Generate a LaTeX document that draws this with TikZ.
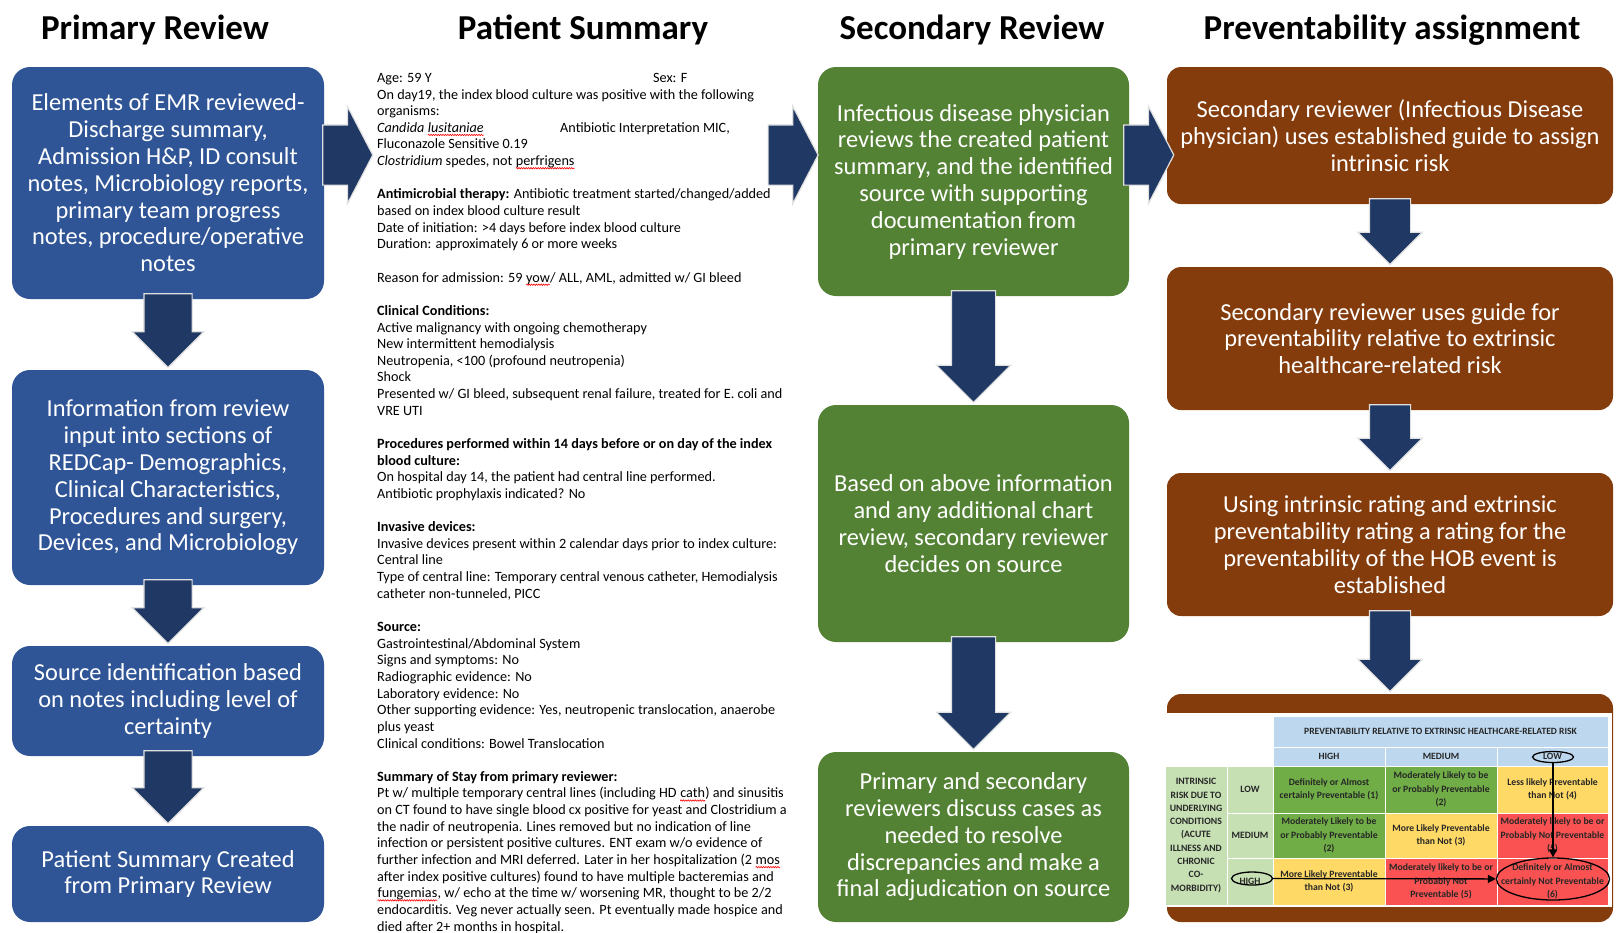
\documentclass[tikz,border=0pt]{standalone}
\usepackage{fontspec}
\setmainfont{Carlito}
\usetikzlibrary{shapes.geometric,shapes.arrows,arrows.meta,calc,positioning,decorations.pathmorphing}

\definecolor{boxblue}{RGB}{47,85,151}
\definecolor{boxgreen}{RGB}{84,130,53}
\definecolor{boxbrown}{RGB}{132,60,12}
\definecolor{arrownavy}{RGB}{31,56,100}
\definecolor{headblue}{RGB}{189,215,238}
\definecolor{sidegreen}{RGB}{198,224,180}
\definecolor{cellgreen}{RGB}{112,173,71}
\definecolor{cellyellow}{RGB}{255,217,102}
\definecolor{cellred}{RGB}{250,82,82}

% red spell-check wave under a word
\newcommand{\spellerr}[1]{\tikz[baseline=(w.base)]{\node[inner sep=0pt, outer sep=0pt] (w) {#1};
  \draw[red, line width=0.6pt, decorate, decoration={snake, amplitude=0.7pt, segment length=2.4pt}] ([yshift=-2.6pt]w.base west) -- ([yshift=-2.6pt]w.base east);}}

% block arrow from one box down to the next: from, to, half stem width, head extend
\newcommand{\downlink}[4]{%
  \path let \p1=(#1.south), \p2=(#2.north) in
    node[downarrow, inner xsep=#3, single arrow head extend=#4,
         minimum height={\y1-\y2+3pt}, anchor=tail] at ([yshift=6pt]#1.south) {};}

\tikzset
{
	flowbox/.style = {rectangle, rounded corners=18pt, align=center, text=white, inner sep=0pt, font=\fontsize{24.4}{26.8}\selectfont},
	bluebox/.style = {flowbox, fill=boxblue, minimum width=312pt},
	greenbox/.style = {flowbox, fill=boxgreen, minimum width=311pt},
	brownbox/.style = {flowbox, fill=boxbrown, minimum width=446pt, rounded corners=14pt},
	coltitle/.style = {font=\fontsize{35}{40}\selectfont\bfseries, anchor=base, inner sep=0pt},
	downarrow/.style = {single arrow, shape border rotate=270, fill=arrownavy, draw=white!88!black, line width=1.2pt, inner ysep=0pt, single arrow tip angle=90, single arrow head indent=0pt},
	rightarrow/.style = {single arrow, fill=arrownavy, draw=white!88!black, line width=1.2pt, inner xsep=0pt, inner ysep=29.5pt, single arrow head extend=18.5pt, single arrow tip angle=125, single arrow head indent=0pt, minimum height=50pt},
	cell/.style = {rectangle, draw=white, line width=0.8pt, inner sep=0pt, align=center, font=\fontsize{9.7}{13.3}\selectfont\bfseries, text=black!85},
	headcell/.style = {cell, fill=headblue, font=\fontsize{9.6}{10}\selectfont\bfseries},
	ratingring/.style = {ellipse, draw=black, line width=1.3pt, inner sep=0pt}
}

\begin{document}
\begin{tikzpicture}[x=1pt, y=-1pt]
\useasboundingbox (0,0) rectangle (1619,932);

% column titles
\node[coltitle] (t1) at (155,39) {Primary Review};
\node[coltitle] (t2) at (583,39) {Patient Summary};
\node[coltitle] (t3) at (972,39) {Secondary Review};
\node[coltitle] (t4) at (1392,39) {Preventability assignment};

% primary review
\node[bluebox, minimum height=232pt] (a1) at (168,183) {Elements of EMR reviewed-\\Discharge summary,\\Admission H\&P, ID consult\\notes, Microbiology reports,\\primary team progress\\notes, procedure/operative\\notes};
\node[bluebox, minimum height=215pt] (a2) at (168,477.5) {Information from review\\input into sections of\\REDCap- Demographics,\\Clinical Characteristics,\\Procedures and surgery,\\Devices, and Microbiology};
\node[bluebox, minimum height=110pt] (a3) at (168,701) {Source identification based\\on notes including level of\\certainty};
\node[bluebox, minimum height=96pt] (a4) at (168,874) {Patient Summary Created\\from Primary Review};

% patient summary
\node[anchor=north west, inner sep=0pt, align=left, font=\fontsize{14.2}{16.64}\selectfont] (summary) at (377,73) {%
\makebox[276pt][l]{Age: 59 Y}Sex: F\\
On day19, the index blood culture was positive with the following\\
organisms:\\
\makebox[183pt][l]{\textit{Candida \spellerr{lusitaniae}}}Antibiotic Interpretation MIC,\\
Fluconazole Sensitive 0.19\\
\textit{Clostridium} spedes, not \spellerr{perfrigens}\\[16.64pt]
\textbf{Antimicrobial therapy:} Antibiotic treatment started/changed/added\\
based on index blood culture result\\
Date of initiation: >4 days before index blood culture\\
Duration: approximately 6 or more weeks\\[16.64pt]
Reason for admission: 59 \spellerr{yow}/ ALL, AML, admitted w/ GI bleed\\[16.64pt]
\textbf{Clinical Conditions:}\\
Active malignancy with ongoing chemotherapy\\
New intermittent hemodialysis\\
Neutropenia, <100 (profound neutropenia)\\
Shock\\
Presented w/ GI bleed, subsequent renal failure, treated for E. coli and\\
VRE UTI\\[16.64pt]
\textbf{Procedures performed within 14 days before or on day of the index}\\
\textbf{blood culture:}\\
On hospital day 14, the patient had central line performed.\\
Antibiotic prophylaxis indicated? No\\[16.64pt]
\textbf{Invasive devices:}\\
Invasive devices present within 2 calendar days prior to index culture:\\
Central line\\
Type of central line: Temporary central venous catheter, Hemodialysis\\
catheter non-tunneled, PICC\\[16.64pt]
\textbf{Source:}\\
Gastrointestinal/Abdominal System\\
Signs and symptoms: No\\
Radiographic evidence: No\\
Laboratory evidence: No\\
Other supporting evidence: Yes, neutropenic translocation, anaerobe\\
plus yeast\\
Clinical conditions: Bowel Translocation\\[16.64pt]
\textbf{Summary of Stay from primary reviewer:}\\
Pt w/ multiple temporary central lines (including HD \spellerr{cath}) and sinusitis\\
on CT found to have single blood cx positive for yeast and Clostridium a\\
the nadir of neutropenia. Lines removed but no indication of line\\
infection or persistent positive cultures. ENT exam w/o evidence of\\
further infection and MRI deferred. Later in her hospitalization (2 \spellerr{mos}\\
after index positive cultures) found to have multiple bacteremias and\\
\spellerr{fungemias}, w/ echo at the time w/ worsening MR, thought to be 2/2\\
endocarditis. Veg never actually seen. Pt eventually made hospice and\\
died after 2+ months in hospital.};

% secondary review
\node[greenbox, minimum height=229pt] (g1) at (973.5,181.5) {Infectious disease physician\\reviews the created patient\\summary, and the identified\\source with supporting\\documentation from\\primary reviewer};
\node[greenbox, minimum height=237pt] (g2) at (973.5,523.5) {Based on above information\\and any additional chart\\review, secondary reviewer\\decides on source};
\node[greenbox, minimum height=170pt] (g3) at (973.5,837) {Primary and secondary\\reviewers discuss cases as\\needed to resolve\\discrepancies and make a\\final adjudication on source};

% preventability assignment
\node[brownbox, minimum height=137pt] (b1) at (1390,135.5) {Secondary reviewer (Infectious Disease\\physician) uses established guide to assign\\intrinsic risk};
\node[brownbox, minimum height=143pt] (b2) at (1390,338.5) {Secondary reviewer uses guide for\\preventability relative to extrinsic\\healthcare-related risk};
\node[brownbox, minimum height=143pt] (b3) at (1390,544.5) {Using intrinsic rating and extrinsic\\preventability rating a rating for the\\preventability of the HOB event is\\established};
\node[brownbox, minimum height=228pt] (b4) at (1390,808) {};

% rating table
\node[fill=white, inner sep=0pt, minimum width=446pt, minimum height=194pt] (tablebg) at (1389,810) {};
\node[cell, fill=white, minimum width=108pt, minimum height=50pt] (corner) at (1219,741) {};
\node[headcell, minimum width=335pt, minimum height=31pt] (exthead) at (1440.5,731.5) {PREVENTABILITY RELATIVE TO EXTRINSIC HEALTHCARE-RELATED RISK};
\node[headcell, minimum width=112pt, minimum height=19pt] (exthigh) at (1329,756.5) {HIGH};
\node[headcell, minimum width=112pt, minimum height=19pt] (extmed) at (1441,756.5) {MEDIUM};
\node[headcell, minimum width=111pt, minimum height=19pt] (extlow) at (1552.5,756.5) {LOW};
\node[cell, fill=sidegreen, minimum width=62pt, minimum height=139pt] (intlabel) at (1196,835.5) {INTRINSIC\\RISK DUE TO\\UNDERLYING\\CONDITIONS\\(ACUTE\\ILLNESS AND\\CHRONIC\\CO-\\MORBIDITY)};
\node[cell, fill=sidegreen, minimum width=46pt, minimum height=47pt] (intlow) at (1250,789.5) {LOW};
\node[cell, fill=sidegreen, minimum width=46pt, minimum height=45pt] (intmed) at (1250,835.5) {MEDIUM};
\node[cell, fill=sidegreen, minimum width=46pt, minimum height=47pt] (inthigh) at (1250,881.5) {HIGH};
\node[cell, fill=cellgreen, minimum width=112pt, minimum height=47pt] (r1c1) at (1329,789.5) {Definitely or Almost\\certainly Preventable (1)};
\node[cell, fill=cellgreen, minimum width=112pt, minimum height=47pt] (r1c2) at (1441,789.5) {Moderately Likely to be\\or Probably Preventable\\(2)};
\node[cell, fill=cellyellow, minimum width=111pt, minimum height=47pt] (r1c3) at (1552.5,789.5) {Less likely Preventable\\than Not (4)};
\node[cell, fill=cellgreen, minimum width=112pt, minimum height=45pt] (r2c1) at (1329,835.5) {Moderately Likely to be\\or Probably Preventable\\(2)};
\node[cell, fill=cellyellow, minimum width=112pt, minimum height=45pt] (r2c2) at (1441,835.5) {More Likely Preventable\\than Not (3)};
\node[cell, fill=cellred, minimum width=111pt, minimum height=45pt] (r2c3) at (1552.5,835.5) {Moderately likely to be or\\Probably Not Preventable\\(5)};
\node[cell, fill=cellyellow, minimum width=112pt, minimum height=47pt] (r3c1) at (1329,881.5) {More Likely Preventable\\than Not (3)};
\node[cell, fill=cellred, minimum width=112pt, minimum height=47pt] (r3c2) at (1441,881.5) {Moderately likely to be or\\Probably Not\\Preventable (5)};
\node[cell, fill=cellred, minimum width=111pt, minimum height=47pt] (r3c3) at (1552.5,881.5) {Definitely or Almost\\certainly Not Preventable\\(6)};

% rings and arrows in the table
\node[ratingring, minimum width=41pt, minimum height=11pt] (lowring) at (1553,757) {};
\node[ratingring, minimum width=41pt, minimum height=13pt] (highring) at (1252,878.5) {};
\node[ratingring, minimum width=113pt, minimum height=42pt] (sixring) at (1553,879) {};
\draw[line width=1.3pt, -{Triangle[length=8pt,width=8pt]}] (lowring) -- (sixring);
\draw[line width=1.3pt, -{Triangle[length=8pt,width=8pt]}] (highring) -- (sixring);

% block arrows
\downlink{a1}{a2}{23.5pt}{11.5pt}
\downlink{a2}{a3}{23.5pt}{11.5pt}
\downlink{a3}{a4}{23.5pt}{11.5pt}
\downlink{g1}{g2}{21.5pt}{15pt}
\downlink{g2}{g3}{21.5pt}{15pt}
\downlink{b1}{b2}{20pt}{11.5pt}
\downlink{b2}{b3}{20pt}{11.5pt}
\downlink{b3}{b4}{20pt}{11.5pt}
\node[rightarrow, anchor=tail] (link1) at ([xshift=-2pt,yshift=28pt]a1.east) {};
\node[rightarrow, anchor=tip] (link2) at ([xshift=1pt,yshift=26.5pt]g1.west) {};
\node[rightarrow, anchor=tail] (link3) at ([xshift=-6pt,yshift=26.5pt]g1.east) {};
\end{tikzpicture}
\end{document}
